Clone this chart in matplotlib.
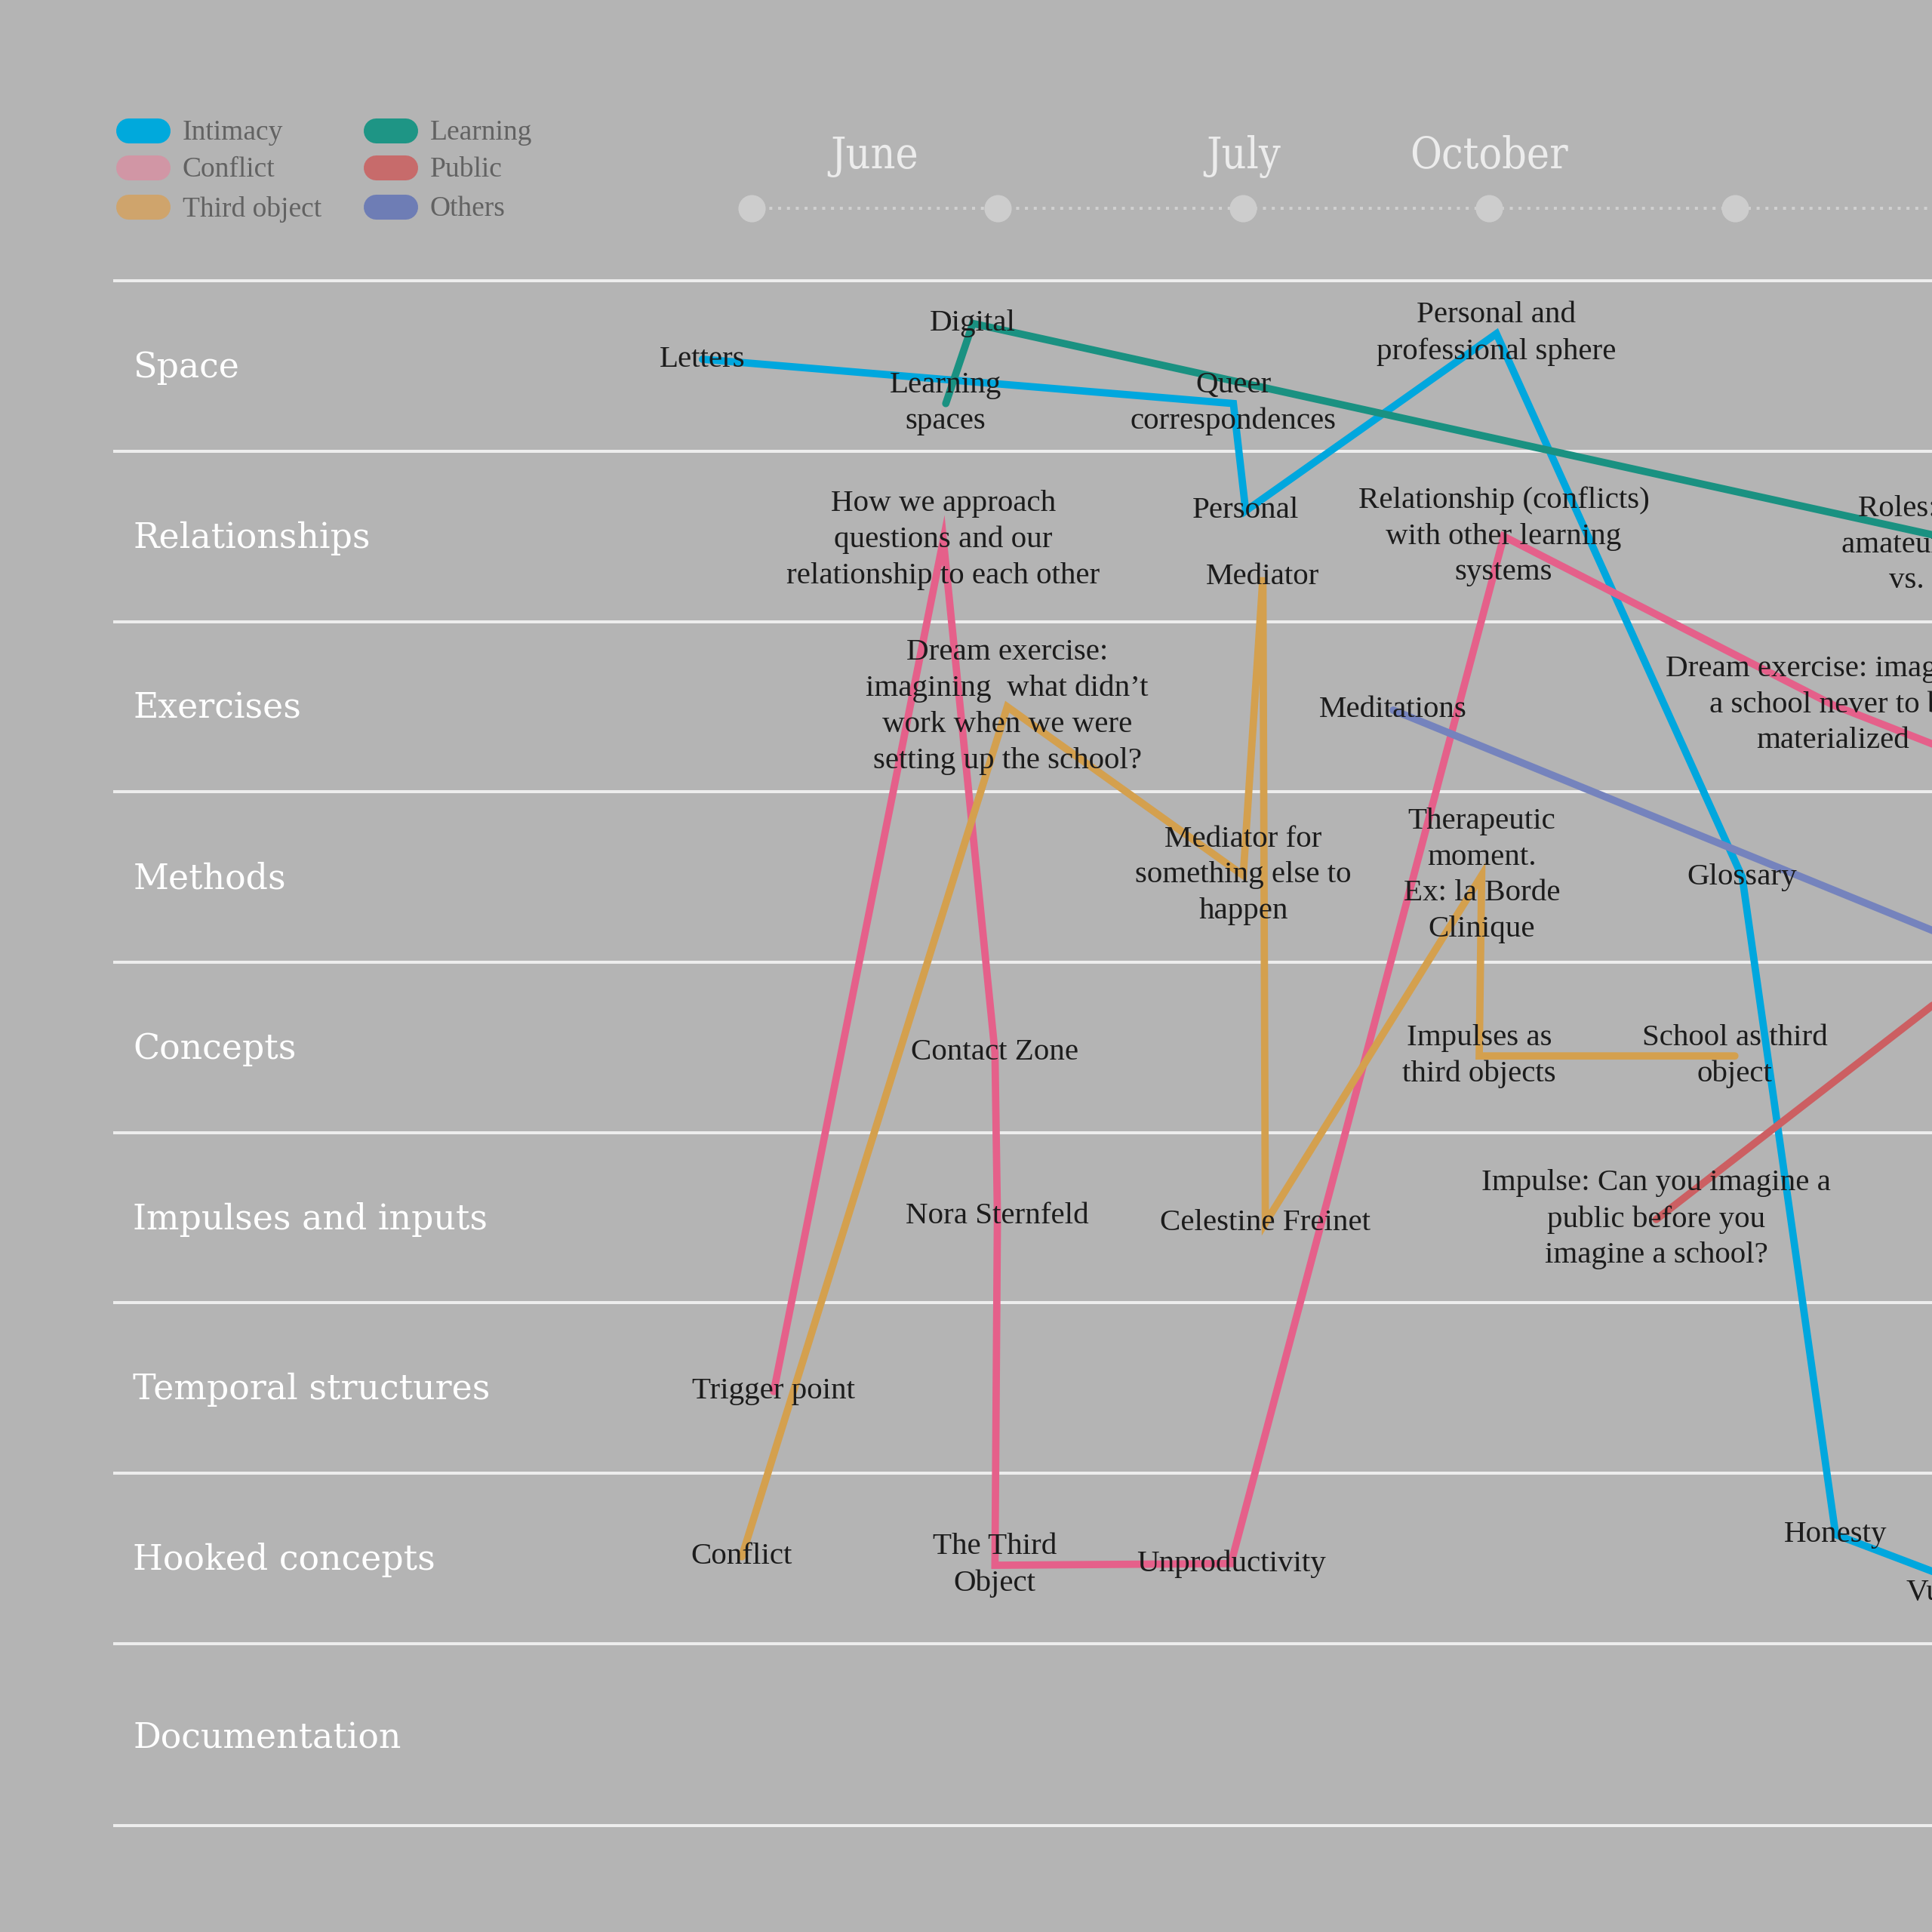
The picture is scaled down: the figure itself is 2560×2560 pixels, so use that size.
import matplotlib.pyplot as plt
import numpy as np

plt.rcParams["font.family"] = ["Liberation Serif", "DejaVu Serif"]

BG = "#b4b4b4"

rows = ["Space", "Relationships", "Exercises", "Methods", "Concepts",
        "Impulses and inputs", "Temporal structures", "Hooked concepts", "Documentation"]

months = ["June", "July", "October"]
month_t = [0.5, 2, 3]
timeline_t = [0, 1, 2, 3, 4]

# nodes: key, label, position on the timeline, row (fraction = offset inside row)
node_keys = ["letters", "digital", "learning_spaces", "queer", "sphere",
             "how_we", "personal", "mediator", "relationship", "roles",
             "dream1", "meditations", "dream2",
             "mediator_for", "therapeutic", "glossary",
             "contact", "impulses3", "school3",
             "nora", "celestine", "impulse_q",
             "trigger",
             "conflict", "third_object", "unproductivity", "honesty", "vulnerability",
             "pink_out", "purple_out", "red_out"]
node_labels = ["Letters", "Digital", "Learning\nspaces", "Queer\ncorrespondences",
               "Personal and\nprofessional sphere",
               "How we approach\nquestions and our\nrelationship to each other",
               "Personal", "Mediator",
               "Relationship (conflicts)\nwith other learning\nsystems",
               "Roles: students and\namateurs and teachers\nvs. the experts",
               "Dream exercise:\nimagining  what didn\u2019t\nwork when we were\nsetting up the school?",
               "Meditations",
               "Dream exercise: imagining\na school never to be\nmaterialized",
               "Mediator for\nsomething else to\nhappen",
               "Therapeutic\nmoment.\nEx: la Borde\nClinique",
               "Glossary",
               "Contact Zone", "Impulses as\nthird objects", "School as third\nobject",
               "Nora Sternfeld", "Celestine Freinet",
               "Impulse: Can you imagine a\npublic before you\nimagine a school?",
               "Trigger point",
               "Conflict", "The Third\nObject", "Unproductivity", "Honesty", "Vulnerability",
               "", "", ""]
node_t = [-0.20, 0.90, 0.79, 1.96, 3.03,
          0.78, 2.01, 2.08, 3.06, 4.99,
          1.04, 2.61, 4.40,
          2.00, 2.97, 4.03,
          0.99, 2.96, 4.00,
          1.00, 2.09, 3.68,
          0.09,
          -0.04, 0.99, 1.95, 4.41, 5.03,
          5.46, 5.46, 5.46]
node_r = [-0.04, -0.25, 0.22, 0.22, -0.19,
          1.02, 0.85, 1.24, 1.00, 1.05,
          2.00, 2.02, 1.99,
          2.99, 2.99, 3.00,
          4.03, 4.05, 4.05,
          4.99, 5.03, 5.01,
          6.02,
          6.99, 7.04, 7.03, 6.86, 7.20,
          2.59, 3.70, 3.02]

themes = ["Intimacy", "Conflict", "Third object", "Learning", "Public", "Others"]
paths = {
    "Intimacy": ["letters", "queer", "personal", "sphere", "glossary", "honesty", "vulnerability"],
    "Conflict": ["trigger", "how_we", "contact", "nora", "third_object", "unproductivity",
                 "relationship", "dream2", "pink_out"],
    "Third object": ["conflict", "dream1", "mediator_for", "mediator", "celestine",
                     "therapeutic", "impulses3", "school3"],
    "Learning": ["learning_spaces", "digital", "roles"],
    "Public": ["impulse_q", "red_out"],
    "Others": ["meditations", "purple_out"],
}

line_colors = {"Intimacy": "#00a7de", "Conflict": "#e5608a", "Third object": "#d4a04e",
               "Learning": "#1a9181", "Public": "#cc5f62", "Others": "#7583bd"}
legend_colors = {"Intimacy": "#00a9dc", "Conflict": "#d196a5", "Third object": "#cfa46c",
                 "Learning": "#1e9585", "Public": "#c76b6b", "Others": "#6e7db5"}

pos = {k: (t, r) for k, t, r in zip(node_keys, node_t, node_r)}

fig = plt.figure(figsize=(25.6, 25.6), dpi=100, facecolor=BG)
ax = fig.add_axes([0, 0, 1, 1])
ax.set_facecolor(BG)
ax.set_xlim(-3.0576, 4.802)
ax.set_ylim(9.193, -2.149)
ax.axis("off")

# row separators
edges = list(np.arange(-0.5, 8.0, 1.0)) + [8.57]
for e in edges:
    ax.plot([-2.596, 5.5], [e, e], color="#ededed", lw=2.9, zorder=1, solid_capstyle="butt")

# row titles
for i, name in enumerate(rows):
    ax.text(-2.516, i + (0.06 if i == 8 else 0.01), name, color="white", fontsize=33,
            family="DejaVu Serif", ha="left", va="center", zorder=3)

# timeline
ax.plot([timeline_t[0], 5.5], [-0.927, -0.927], color="#d0d0d0", lw=2.9,
        linestyle=(0, (1.0, 1.9)), zorder=1)
ax.plot(timeline_t, [-0.927] * len(timeline_t), "o", color="#cdcdcd", ms=26, mec="none", zorder=2)
for m, t in zip(months, month_t):
    ax.text(t, -1.23, m, color="#ececec", fontsize=41, family="DejaVu Serif",
            fontstretch="condensed", ha="center", va="center", zorder=3)

# theme lines
for th in themes:
    xs = [pos[k][0] for k in paths[th]]
    ys = [pos[k][1] for k in paths[th]]
    ax.plot(xs, ys, color=line_colors[th], lw=7, solid_joinstyle="miter",
            solid_capstyle="round", zorder=2)

# node labels
for k, lab in zip(node_keys, node_labels):
    if lab:
        ax.text(pos[k][0], pos[k][1], lab, color="#1c1c1c", fontsize=29.5, ha="center",
                va="center", linespacing=1.38, zorder=3)

# legend
leg_x = [0.07398, 0.2022]
leg_y = [0.9324, 0.9133, 0.8929]
half = 0.0076
for j, th in enumerate(themes):
    cx = leg_x[j // 3]
    cy = leg_y[j % 3]
    ax.plot([cx - half, cx + half], [cy, cy], transform=ax.transAxes, color=legend_colors[th],
            lw=23.8, solid_capstyle="round", zorder=3)
    ax.text(cx + 0.0204, cy - 0.0012, th, transform=ax.transAxes, color="#626262", fontsize=27,
            ha="left", va="center", zorder=3)

fig.savefig("out.png", dpi=100, facecolor=BG)
